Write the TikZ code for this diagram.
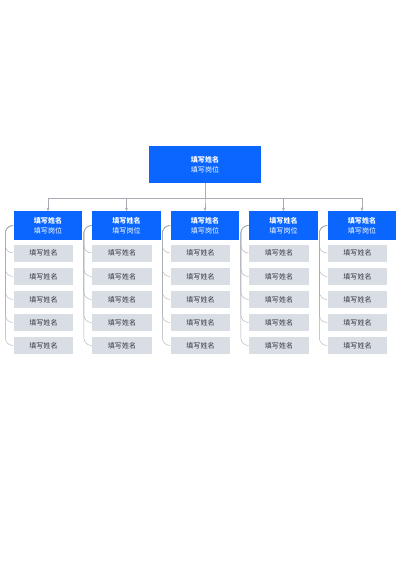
\documentclass[tikz,border=0pt]{standalone}
\usepackage{fontspec}
\setmainfont{Noto Sans CJK SC}
\usetikzlibrary{arrows.meta}
\definecolor{boxblue}{HTML}{0A66FF}
\definecolor{boxgray}{HTML}{D9DDE4}
\definecolor{linegray}{HTML}{A8ACB3}
\definecolor{namegray}{HTML}{33363C}
\tikzset{
  leadbox/.style={fill=boxblue, text=white, align=center, inner sep=0pt, font=\fontsize{10.5}{15.5}\selectfont},
  bossbox/.style={leadbox, minimum width=5.88cm, minimum height=1.9425cm},
  headbox/.style={leadbox, minimum width=3.6225cm, minimum height=1.5cm},
  member/.style={fill=boxgray, text=namegray, minimum width=3.15cm, minimum height=0.8925cm, inner sep=0pt, font=\fontsize{10.5}{12}\selectfont},
  link/.style={draw=linegray, line width=0.6pt},
}
\begin{document}
\begin{tikzpicture}[x=0.0525cm, y=-0.0525cm]
            \useasboundingbox (0,0) rectangle (400,566);
            {
            
            % Drawing box of the chief
            \node [bossbox] (boss) at (205,164.5) {\textbf{填写姓名}\\填写岗位};%
            
            % Drawing the five groups, each with its leader and members
            \foreach \i/\cx in {1/48,2/126.5,3/205,4/283.5,5/362} {
              \node [headbox] (head\i) at (\cx,225.5) {\textbf{填写姓名}\\填写岗位};%
              \draw [link,-{Stealth[length=5pt,width=4.5pt]}] (boss.south) -- ++(0,15) -| (head\i.north);%
              \foreach \j/\cy in {1/253,2/276.5,3/299.5,4/322.5,5/345.5} {
                \node [member] (member\i\j) at (\cx-4.5,\cy) {填写姓名};%
                \draw [link,rounded corners=0.4cm] (head\i.west) -- ++(-8,0) |- (member\i\j.west);%
              }
            }
            }
\end{tikzpicture}
\end{document}
